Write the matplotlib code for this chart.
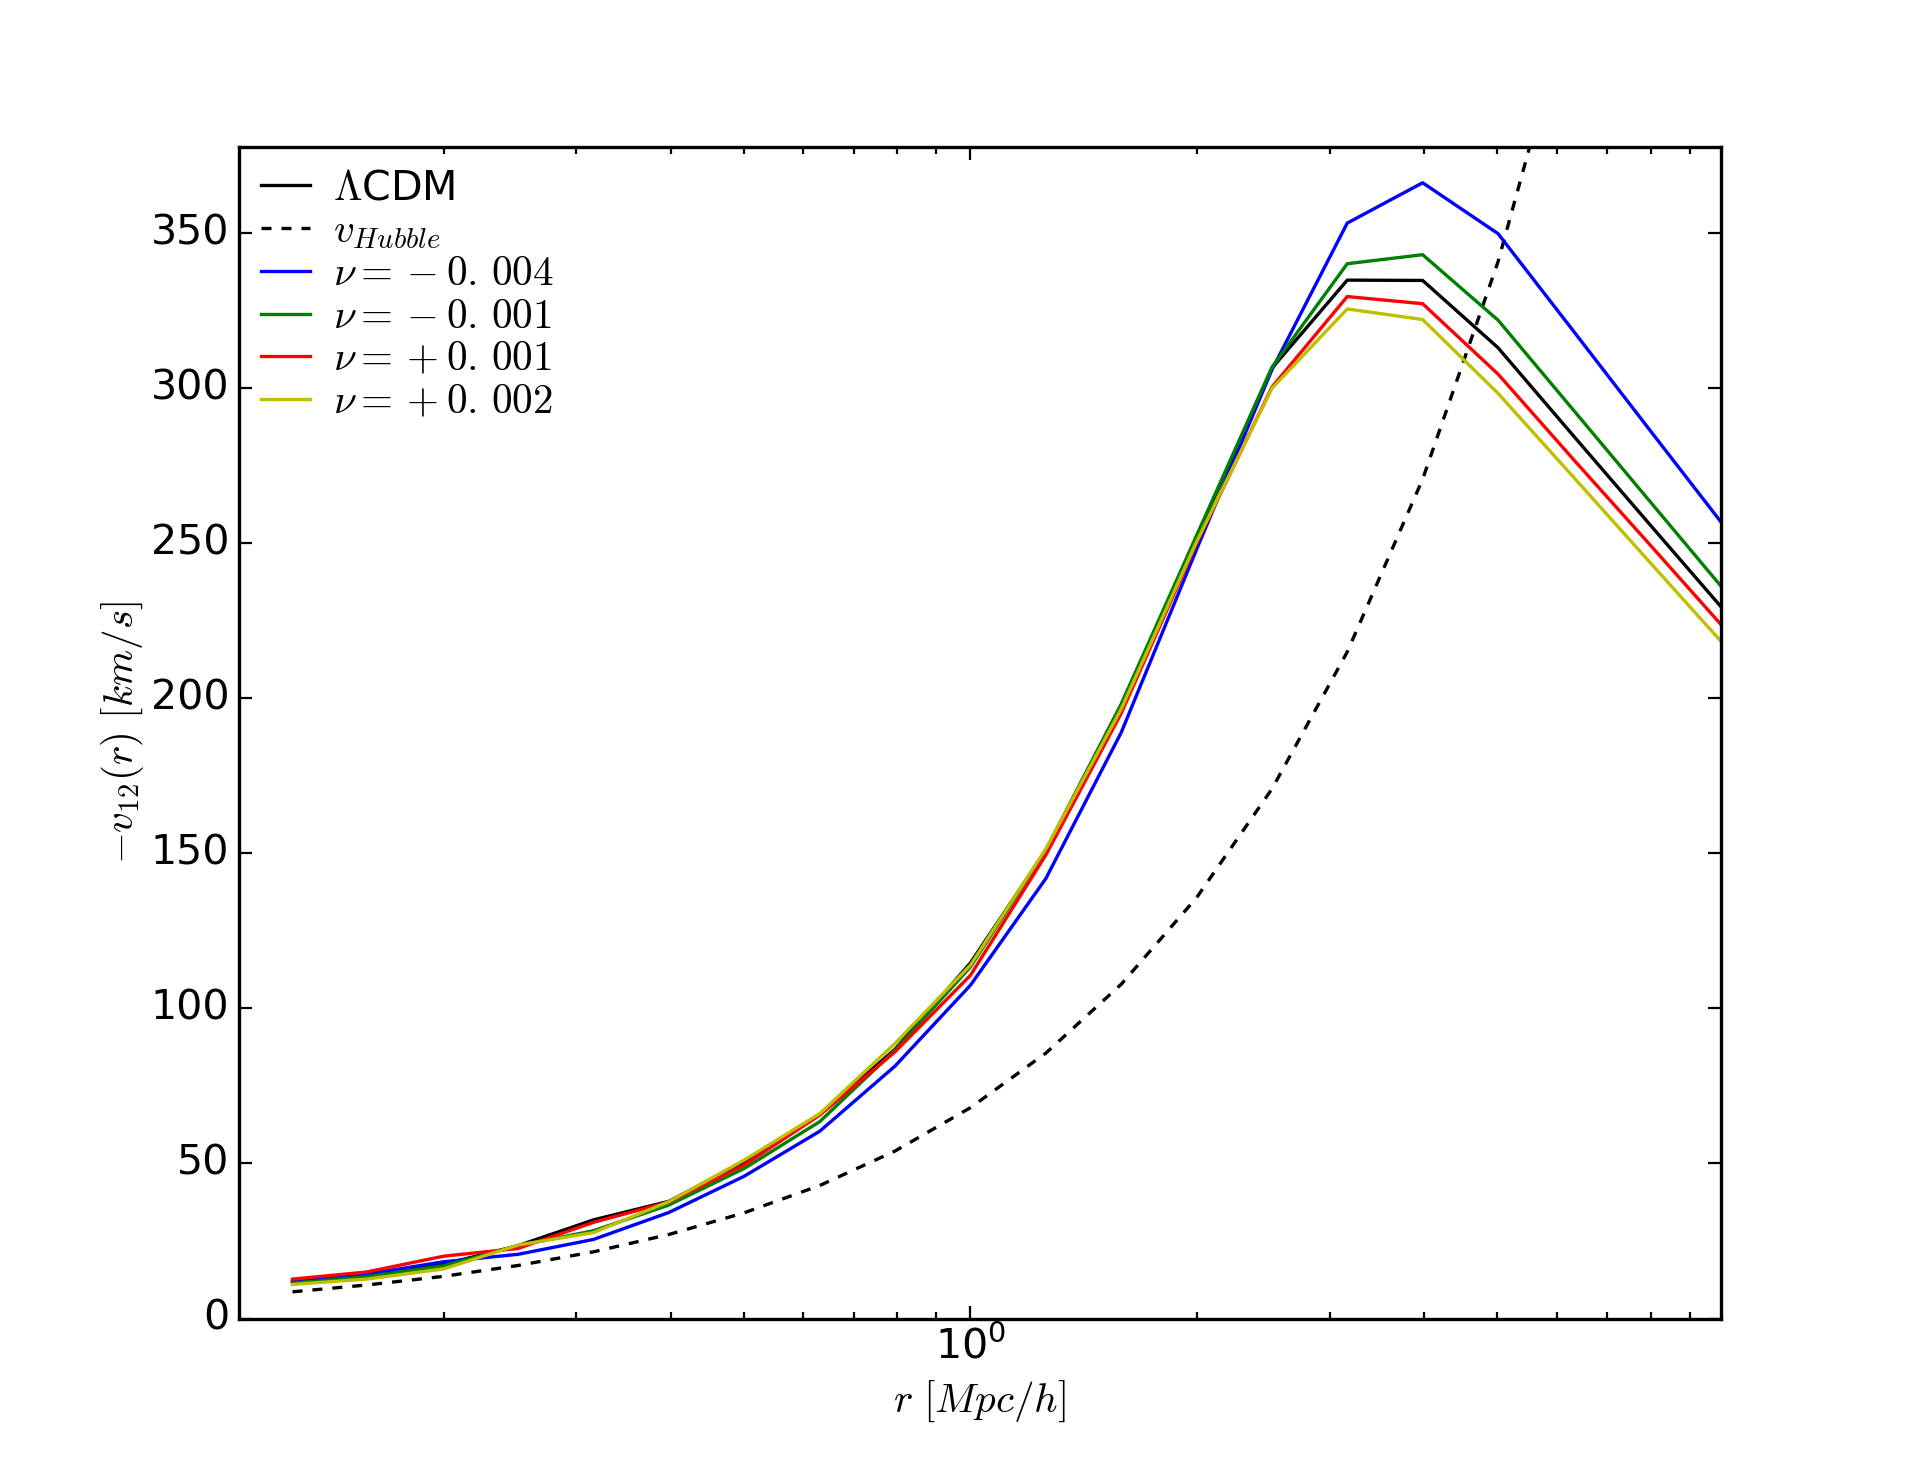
import matplotlib
matplotlib.use('Agg')
import matplotlib.pyplot as plt
from matplotlib.ticker import NullFormatter

# separation r [Mpc/h]
r = [0.126, 0.158, 0.200, 0.251, 0.316, 0.398, 0.501, 0.631, 0.794, 1.000,
     1.259, 1.585, 1.995, 2.512, 3.162, 3.981, 5.012, 6.310, 7.943, 10.00]

v_lcdm = [11.6, 13.8, 17.5, 23.5, 31.8, 37.8, 50.6, 65.8, 86.8, 114.7,
          151.0, 198.0, 252.0, 306.5, 334.9, 334.8, 313.1, 284.7, 256.5, 228.4]
v_hubble = [8.6, 10.8, 13.6, 17.1, 21.5, 27.1, 34.1, 42.9, 54.0, 68.0,
            85.6, 107.8, 135.7, 170.8, 215.0, 270.7, 340.8, 429.0, 540.0, 680.0]
v_m004 = [11.9, 14.3, 18.3, 20.7, 25.5, 34.2, 45.9, 60.4, 81.4, 107.5,
          141.9, 189.0, 248.0, 306.0, 353.3, 366.3, 349.9, 318.5, 287.0, 255.6]
v_m001 = [11.4, 13.5, 17.0, 23.5, 28.3, 36.6, 48.4, 63.5, 86.5, 113.4,
          151.0, 198.1, 252.5, 306.8, 340.2, 343.1, 322.0, 293.0, 264.0, 235.0]
v_p001 = [12.7, 15.0, 20.1, 22.6, 31.0, 37.6, 49.5, 65.6, 86.0, 110.7,
          149.5, 195.2, 250.0, 300.4, 329.6, 327.3, 304.6, 277.1, 250.0, 222.7]
v_p002 = [11.0, 12.7, 16.0, 23.7, 27.7, 37.7, 51.1, 66.1, 88.7, 114.0,
          151.5, 196.6, 250.5, 300.0, 325.6, 322.2, 298.4, 271.4, 244.3, 217.3]

labels = [r'$\Lambda$CDM', r'$v_{Hubble}$', r'$\nu={}-0.\,004$',
          r'$\nu={}-0.\,001$', r'$\nu={}+0.\,001$', r'$\nu={}+0.\,002$']

plt.style.use('classic')
plt.rcParams['mathtext.fontset'] = 'cm'

fig = plt.figure(figsize=(19.12, 14.65), dpi=100)
fig.patch.set_facecolor('white')
ax = fig.add_axes([0.125, 0.1, 0.775, 0.8])
lw = 2.4

ax.plot(r, v_lcdm, color='k', lw=lw, label=labels[0])
ax.plot(r, v_hubble, color='k', lw=lw, ls='--', dashes=(7.2, 7.2), label=labels[1])
ax.plot(r, v_m004, color='b', lw=lw, label=labels[2])
ax.plot(r, v_m001, color='g', lw=lw, label=labels[3])
ax.plot(r, v_p001, color='r', lw=lw, label=labels[4])
ax.plot(r, v_p002, color='y', lw=lw, label=labels[5])

ax.set_xscale('log')
ax.set_xlim(0.107, 9.9)
ax.set_ylim(0, 378)
ax.set_yticks([0, 50, 100, 150, 200, 250, 300, 350])
ax.xaxis.set_minor_formatter(NullFormatter())

for s in ax.spines.values():
    s.set_linewidth(2.4)
ax.tick_params(which='major', direction='in', length=9.6, width=1.6,
               labelsize=29.6, top=True, right=True)
ax.tick_params(which='minor', direction='in', length=4.8, width=1.6,
               top=True, right=True)
ax.tick_params(axis='x', which='major', pad=6)
ax.tick_params(axis='y', which='major', pad=7)

ax.set_xlabel(r'$r\ [Mpc/h]$', fontsize=29.6, labelpad=8)
ax.set_ylabel(r'$-v_{12}(r)\ [km/s]$', fontsize=29.6, labelpad=3)

ax.legend(loc='upper left', frameon=False, fontsize=29.6, handlelength=1.2,
          handletextpad=0.56, borderaxespad=0.28, borderpad=0.25,
          labelspacing=0.07, numpoints=1)

fig.savefig('out.png', dpi=100, facecolor='white')
